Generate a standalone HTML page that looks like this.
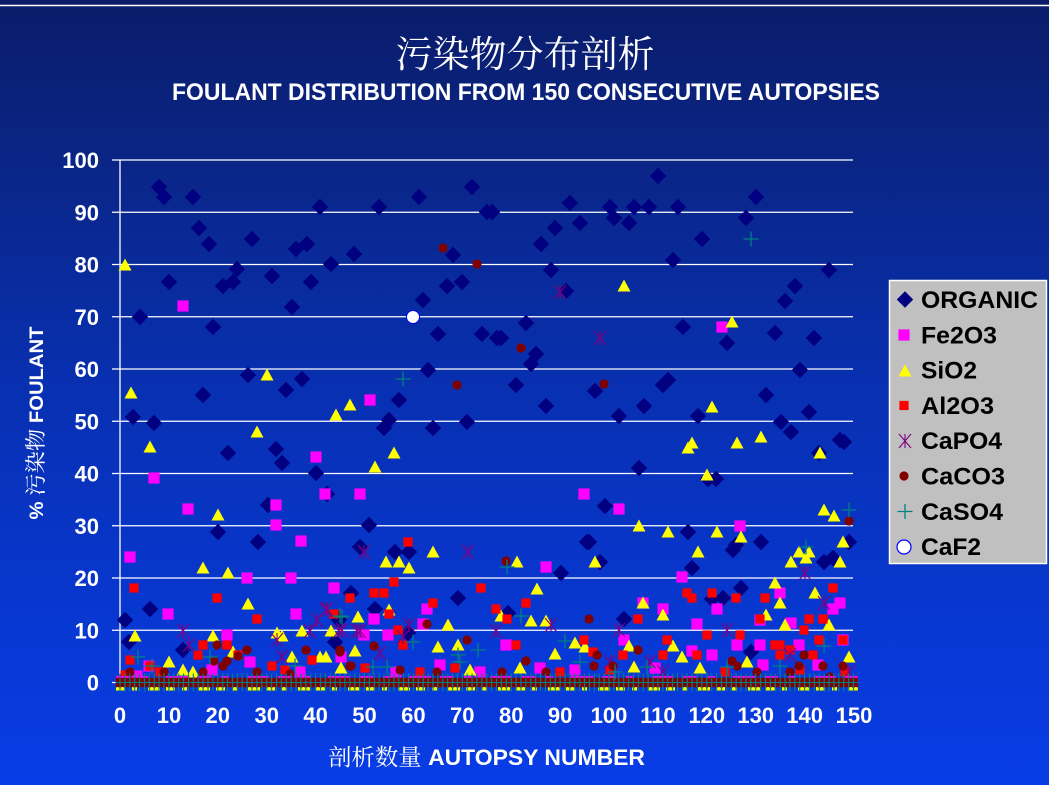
<!DOCTYPE html>
<html><head><meta charset="utf-8"><style>
html,body{margin:0;padding:0;background:#0a2a9a;}
svg{display:block;}
</style></head><body>
<svg xmlns="http://www.w3.org/2000/svg" width="1049" height="785" viewBox="0 0 1049 785">
<defs>
<linearGradient id="bg" x1="0" y1="0" x2="0" y2="1">
<stop offset="0" stop-color="#0a1c6a"/>
<stop offset="0.15" stop-color="#0a237e"/>
<stop offset="0.5" stop-color="#0830b2"/>
<stop offset="0.85" stop-color="#0839d8"/>
<stop offset="1" stop-color="#083ce6"/>
</linearGradient>
<polygon id="D" points="0,-8.2 8.2,0 0,8.2 -8.2,0" fill="#000080"/>
<rect id="M" x="-5.6" y="-5.6" width="11.2" height="11.2" fill="#FF00FF"/>
<polygon id="T" points="0,-6.5 6.5,5.5 -6.5,5.5" fill="#FFFF00"/>
<rect id="R" x="-4.6" y="-4.6" width="9.2" height="9.2" fill="#FF0000"/>
<path id="A" d="M-6,-7L6,7M-6,7L6,-7M0,-7V7" stroke="#800080" stroke-width="1.1" fill="none"/>
<circle id="C" r="4.6" fill="#800000"/>
<path id="P" d="M-7.5,0H7.5M0,-7.5V7.5" stroke="#008080" stroke-width="1.3" fill="none"/>
<pattern id="band" patternUnits="userSpaceOnUse" x="117.557" y="668" width="4.89" height="30">
<circle cx="2.445" cy="14.5" r="5" fill="#800000"/>
<line x1="2.445" y1="5.5" x2="2.445" y2="23.5" stroke="#008080" stroke-width="1.2"/>
<line x1="0" y1="14.5" x2="4.89" y2="14.5" stroke="#008080" stroke-width="1"/>
</pattern>
</defs>
<rect x="0" y="0" width="1049" height="785" fill="url(#bg)"/>
<line x1="0" y1="5.5" x2="1049" y2="5.5" stroke="#ffffff" stroke-width="1.5"/>

<!-- titles -->
<text x="525" y="67" font-family="'Noto Serif CJK SC','Noto Sans CJK SC',serif" font-size="37" fill="#ffffff" text-anchor="middle">污染物分布剖析</text>
<text x="526" y="100" font-family="'Liberation Sans',sans-serif" font-weight="bold" font-size="24" fill="#ffffff" text-anchor="middle" textLength="708" lengthAdjust="spacingAndGlyphs">FOULANT DISTRIBUTION  FROM 150 CONSECUTIVE AUTOPSIES</text>

<!-- gridlines -->
<g stroke="#ffffff" stroke-width="1.3">
<line x1="112" y1="160" x2="853" y2="160"/>
<line x1="112" y1="212.25" x2="853" y2="212.25"/>
<line x1="112" y1="264.5" x2="853" y2="264.5"/>
<line x1="112" y1="316.75" x2="853" y2="316.75"/>
<line x1="112" y1="369" x2="853" y2="369"/>
<line x1="112" y1="421.25" x2="853" y2="421.25"/>
<line x1="112" y1="473.5" x2="853" y2="473.5"/>
<line x1="112" y1="525.75" x2="853" y2="525.75"/>
<line x1="112" y1="578" x2="853" y2="578"/>
<line x1="112" y1="630.25" x2="853" y2="630.25"/>
<line x1="112" y1="682.5" x2="853" y2="682.5"/>
<line x1="120" y1="160" x2="120" y2="686"/>
</g>

<!-- y tick labels -->
<g font-family="'Liberation Sans',sans-serif" font-weight="bold" font-size="22" fill="#ffffff" text-anchor="end">
<text x="99" y="168">100</text>
<text x="99" y="220.25">90</text>
<text x="99" y="272.5">80</text>
<text x="99" y="324.75">70</text>
<text x="99" y="377">60</text>
<text x="99" y="429.25">50</text>
<text x="99" y="481.5">40</text>
<text x="99" y="533.75">30</text>
<text x="99" y="586">20</text>
<text x="99" y="638.25">10</text>
<text x="99" y="690.5">0</text>
</g>
<!-- x tick labels -->
<g font-family="'Liberation Sans',sans-serif" font-weight="bold" font-size="22" fill="#ffffff" text-anchor="middle">
<text x="120" y="723">0</text>
<text x="169" y="723">10</text>
<text x="217.8" y="723">20</text>
<text x="266.7" y="723">30</text>
<text x="315.6" y="723">40</text>
<text x="364.5" y="723">50</text>
<text x="413.4" y="723">60</text>
<text x="462.3" y="723">70</text>
<text x="511.2" y="723">80</text>
<text x="560.1" y="723">90</text>
<text x="609" y="723">100</text>
<text x="657.9" y="723">110</text>
<text x="706.8" y="723">120</text>
<text x="755.7" y="723">130</text>
<text x="804.6" y="723">140</text>
<text x="854" y="723">150</text>
</g>

<!-- axis titles -->
<text x="486.5" y="765" font-family="'Liberation Sans','Noto Serif CJK SC',sans-serif" font-size="22.5" fill="#ffffff" text-anchor="middle" textLength="317" lengthAdjust="spacingAndGlyphs"><tspan font-family="'Noto Serif CJK SC','Noto Sans CJK SC',serif" font-size="23">剖析数量</tspan><tspan font-weight="bold"> AUTOPSY NUMBER</tspan></text>
<text transform="translate(43,423) rotate(-90)" font-family="'Liberation Sans','Noto Serif CJK SC',sans-serif" font-size="19" fill="#ffffff" text-anchor="middle" textLength="193" lengthAdjust="spacingAndGlyphs"><tspan font-weight="bold">% </tspan><tspan font-family="'Noto Serif CJK SC','Noto Sans CJK SC',serif" font-size="21">污染物</tspan><tspan font-weight="bold"> FOULANT</tspan></text>

<!-- ORGANIC -->
<g>
<use href="#D" x="125" y="620"/><use href="#D" x="129" y="642"/><use href="#D" x="133" y="417"/><use href="#D" x="140" y="317"/><use href="#D" x="150" y="609"/><use href="#D" x="154" y="423"/><use href="#D" x="159" y="187"/><use href="#D" x="164" y="197"/><use href="#D" x="169" y="282"/><use href="#D" x="183" y="650"/><use href="#D" x="193" y="197"/><use href="#D" x="199" y="228"/><use href="#D" x="203" y="395"/><use href="#D" x="209" y="244"/><use href="#D" x="213" y="327"/><use href="#D" x="218" y="532"/><use href="#D" x="223" y="286"/><use href="#D" x="228" y="453"/><use href="#D" x="233" y="282"/><use href="#D" x="237" y="269"/><use href="#D" x="248" y="375"/><use href="#D" x="252" y="239"/><use href="#D" x="258" y="542"/><use href="#D" x="268" y="505"/><use href="#D" x="272" y="276"/><use href="#D" x="276" y="449"/><use href="#D" x="282" y="463"/><use href="#D" x="286" y="390"/><use href="#D" x="292" y="307"/><use href="#D" x="296" y="249"/><use href="#D" x="302" y="379"/><use href="#D" x="307" y="244"/><use href="#D" x="311" y="282"/><use href="#D" x="316" y="473"/><use href="#D" x="320" y="207"/><use href="#D" x="327" y="494"/><use href="#D" x="331" y="264"/><use href="#D" x="335" y="642"/><use href="#D" x="339" y="620"/><use href="#D" x="351" y="593"/><use href="#D" x="354" y="254"/><use href="#D" x="360" y="547"/><use href="#D" x="369" y="525"/><use href="#D" x="379" y="207"/><use href="#D" x="375" y="609"/><use href="#D" x="384" y="428"/><use href="#D" x="389" y="420"/><use href="#D" x="395" y="552"/><use href="#D" x="399" y="400"/><use href="#D" x="408" y="633"/><use href="#D" x="409" y="552"/><use href="#D" x="419" y="197"/><use href="#D" x="423" y="300"/><use href="#D" x="428" y="370"/><use href="#D" x="433" y="428"/><use href="#D" x="438" y="334"/><use href="#D" x="447" y="286"/><use href="#D" x="453" y="255"/><use href="#D" x="458" y="598"/><use href="#D" x="462" y="282"/><use href="#D" x="467" y="422"/><use href="#D" x="472" y="187"/><use href="#D" x="482" y="334"/><use href="#D" x="487" y="212"/><use href="#D" x="492" y="212"/><use href="#D" x="497" y="338"/><use href="#D" x="501" y="338"/><use href="#D" x="508" y="613"/><use href="#D" x="516" y="385"/><use href="#D" x="526" y="323"/><use href="#D" x="531" y="364"/><use href="#D" x="536" y="354"/><use href="#D" x="541" y="244"/><use href="#D" x="546" y="406"/><use href="#D" x="551" y="270"/><use href="#D" x="555" y="228"/><use href="#D" x="561" y="573"/><use href="#D" x="566" y="291"/><use href="#D" x="570" y="203"/><use href="#D" x="580" y="223"/><use href="#D" x="587" y="542"/><use href="#D" x="589" y="542"/><use href="#D" x="595" y="391"/><use href="#D" x="600" y="562"/><use href="#D" x="605" y="506"/><use href="#D" x="610" y="207"/><use href="#D" x="614" y="218"/><use href="#D" x="619" y="416"/><use href="#D" x="624" y="619"/><use href="#D" x="629" y="223"/><use href="#D" x="634" y="207"/><use href="#D" x="639" y="468"/><use href="#D" x="644" y="406"/><use href="#D" x="649" y="207"/><use href="#D" x="658" y="176"/><use href="#D" x="663" y="385"/><use href="#D" x="668" y="380"/><use href="#D" x="673" y="260"/><use href="#D" x="678" y="207"/><use href="#D" x="683" y="327"/><use href="#D" x="688" y="532"/><use href="#D" x="692" y="568"/><use href="#D" x="698" y="416"/><use href="#D" x="702" y="239"/><use href="#D" x="708" y="479"/><use href="#D" x="712" y="599"/><use href="#D" x="716" y="479"/><use href="#D" x="723" y="598"/><use href="#D" x="727" y="343"/><use href="#D" x="733" y="550"/><use href="#D" x="736" y="545"/><use href="#D" x="741" y="588"/><use href="#D" x="746" y="218"/><use href="#D" x="751" y="652"/><use href="#D" x="756" y="197"/><use href="#D" x="761" y="542"/><use href="#D" x="766" y="395"/><use href="#D" x="775" y="333"/><use href="#D" x="781" y="422"/><use href="#D" x="785" y="301"/><use href="#D" x="791" y="432"/><use href="#D" x="795" y="286"/><use href="#D" x="800" y="370"/><use href="#D" x="809" y="412"/><use href="#D" x="814" y="338"/><use href="#D" x="819" y="453"/><use href="#D" x="824" y="562"/><use href="#D" x="829" y="270"/><use href="#D" x="833" y="558"/><use href="#D" x="840" y="440"/><use href="#D" x="844" y="442"/><use href="#D" x="849" y="542"/>
</g>

<!-- Fe2O3 -->
<g>
<use href="#M" x="130" y="557"/><use href="#M" x="154" y="478"/><use href="#M" x="183" y="306"/><use href="#M" x="188" y="509"/><use href="#M" x="168" y="614"/><use href="#M" x="227" y="635"/><use href="#M" x="247" y="578"/><use href="#M" x="276" y="505"/><use href="#M" x="276" y="525"/><use href="#M" x="291" y="578"/><use href="#M" x="296" y="614"/><use href="#M" x="301" y="541"/><use href="#M" x="316" y="457"/><use href="#M" x="325" y="494"/><use href="#M" x="334" y="588"/><use href="#M" x="360" y="494"/><use href="#M" x="370" y="400"/><use href="#M" x="374" y="619"/><use href="#M" x="364" y="635"/><use href="#M" x="388" y="635"/><use href="#M" x="427" y="609"/><use href="#M" x="423" y="624"/><use href="#M" x="506" y="645"/><use href="#M" x="546" y="567"/><use href="#M" x="584" y="494"/><use href="#M" x="619" y="509"/><use href="#M" x="643" y="603"/><use href="#M" x="663" y="609"/><use href="#M" x="682" y="577"/><use href="#M" x="697" y="624"/><use href="#M" x="717" y="609"/><use href="#M" x="722" y="327"/><use href="#M" x="740" y="526"/><use href="#M" x="760" y="620"/><use href="#M" x="780" y="593"/><use href="#M" x="791" y="623"/><use href="#M" x="833" y="609"/><use href="#M" x="840" y="603"/><use href="#M" x="737" y="645"/><use href="#M" x="760" y="645"/><use href="#M" x="799" y="645"/><use href="#M" x="843" y="640"/><use href="#M" x="624" y="640"/><use href="#M" x="692" y="651"/><use href="#M" x="712" y="655"/><use href="#M" x="763" y="665"/><use href="#M" x="818" y="665"/><use href="#M" x="250" y="662"/><use href="#M" x="149" y="666"/><use href="#M" x="212" y="670"/><use href="#M" x="341" y="657"/><use href="#M" x="137" y="676"/><use href="#M" x="480" y="672"/><use href="#M" x="540" y="668"/><use href="#M" x="575" y="670"/><use href="#M" x="655" y="668"/><use href="#M" x="300" y="672"/><use href="#M" x="440" y="665"/><use href="#M" x="396" y="672"/>
</g>

<!-- SiO2 -->
<g>
<use href="#T" x="125" y="265"/><use href="#T" x="131" y="393"/><use href="#T" x="135" y="636"/><use href="#T" x="150" y="447"/><use href="#T" x="203" y="568"/><use href="#T" x="218" y="515"/><use href="#T" x="228" y="573"/><use href="#T" x="248" y="604"/><use href="#T" x="257" y="432"/><use href="#T" x="267" y="375"/><use href="#T" x="213" y="636"/><use href="#T" x="277" y="633"/><use href="#T" x="282" y="636"/><use href="#T" x="292" y="657"/><use href="#T" x="302" y="631"/><use href="#T" x="331" y="631"/><use href="#T" x="336" y="415"/><use href="#T" x="350" y="405"/><use href="#T" x="358" y="617"/><use href="#T" x="375" y="467"/><use href="#T" x="386" y="562"/><use href="#T" x="389" y="610"/><use href="#T" x="394" y="453"/><use href="#T" x="399" y="562"/><use href="#T" x="409" y="568"/><use href="#T" x="433" y="552"/><use href="#T" x="438" y="647"/><use href="#T" x="448" y="625"/><use href="#T" x="458" y="645"/><use href="#T" x="501" y="616"/><use href="#T" x="517" y="562"/><use href="#T" x="531" y="621"/><use href="#T" x="537" y="589"/><use href="#T" x="546" y="621"/><use href="#T" x="555" y="654"/><use href="#T" x="575" y="643"/><use href="#T" x="585" y="647"/><use href="#T" x="595" y="562"/><use href="#T" x="624" y="286"/><use href="#T" x="639" y="526"/><use href="#T" x="643" y="603"/><use href="#T" x="663" y="615"/><use href="#T" x="668" y="532"/><use href="#T" x="682" y="657"/><use href="#T" x="688" y="448"/><use href="#T" x="692" y="443"/><use href="#T" x="698" y="552"/><use href="#T" x="707" y="475"/><use href="#T" x="712" y="407"/><use href="#T" x="717" y="532"/><use href="#T" x="732" y="322"/><use href="#T" x="737" y="443"/><use href="#T" x="741" y="537"/><use href="#T" x="761" y="437"/><use href="#T" x="766" y="615"/><use href="#T" x="775" y="583"/><use href="#T" x="780" y="603"/><use href="#T" x="785" y="625"/><use href="#T" x="791" y="562"/><use href="#T" x="799" y="552"/><use href="#T" x="806" y="558"/><use href="#T" x="809" y="552"/><use href="#T" x="815" y="593"/><use href="#T" x="820" y="453"/><use href="#T" x="824" y="510"/><use href="#T" x="829" y="625"/><use href="#T" x="834" y="516"/><use href="#T" x="840" y="562"/><use href="#T" x="843" y="542"/><use href="#T" x="849" y="657"/><use href="#T" x="629" y="646"/><use href="#T" x="673" y="646"/><use href="#T" x="747" y="662"/><use href="#T" x="634" y="667"/><use href="#T" x="169" y="662"/><use href="#T" x="320" y="657"/><use href="#T" x="326" y="657"/><use href="#T" x="341" y="668"/><use href="#T" x="355" y="651"/><use href="#T" x="183" y="670"/><use href="#T" x="193" y="672"/><use href="#T" x="233" y="652"/><use href="#T" x="520" y="668"/><use href="#T" x="470" y="670"/><use href="#T" x="700" y="668"/>
</g>

<!-- Al2O3 -->
<g>
<use href="#R" x="134" y="588"/><use href="#R" x="217" y="598"/><use href="#R" x="257" y="619"/><use href="#R" x="130" y="660"/><use href="#R" x="150" y="666"/><use href="#R" x="203" y="645"/><use href="#R" x="198" y="655"/><use href="#R" x="227" y="645"/><use href="#R" x="238" y="655"/><use href="#R" x="272" y="666"/><use href="#R" x="312" y="660"/><use href="#R" x="334" y="614"/><use href="#R" x="350" y="598"/><use href="#R" x="408" y="542"/><use href="#R" x="394" y="582"/><use href="#R" x="374" y="593"/><use href="#R" x="384" y="593"/><use href="#R" x="481" y="588"/><use href="#R" x="433" y="603"/><use href="#R" x="389" y="614"/><use href="#R" x="496" y="609"/><use href="#R" x="507" y="619"/><use href="#R" x="526" y="603"/><use href="#R" x="398" y="630"/><use href="#R" x="403" y="645"/><use href="#R" x="516" y="645"/><use href="#R" x="584" y="640"/><use href="#R" x="593" y="652"/><use href="#R" x="833" y="588"/><use href="#R" x="687" y="593"/><use href="#R" x="692" y="598"/><use href="#R" x="712" y="593"/><use href="#R" x="736" y="598"/><use href="#R" x="765" y="598"/><use href="#R" x="638" y="619"/><use href="#R" x="760" y="619"/><use href="#R" x="809" y="619"/><use href="#R" x="823" y="619"/><use href="#R" x="804" y="630"/><use href="#R" x="707" y="635"/><use href="#R" x="740" y="635"/><use href="#R" x="667" y="640"/><use href="#R" x="819" y="640"/><use href="#R" x="843" y="640"/><use href="#R" x="775" y="645"/><use href="#R" x="780" y="645"/><use href="#R" x="790" y="650"/><use href="#R" x="623" y="655"/><use href="#R" x="663" y="655"/><use href="#R" x="697" y="655"/><use href="#R" x="780" y="655"/><use href="#R" x="813" y="655"/><use href="#R" x="125" y="675"/><use href="#R" x="160" y="672"/><use href="#R" x="285" y="670"/><use href="#R" x="365" y="668"/><use href="#R" x="420" y="672"/><use href="#R" x="455" y="668"/><use href="#R" x="560" y="672"/><use href="#R" x="610" y="670"/><use href="#R" x="725" y="672"/><use href="#R" x="800" y="670"/><use href="#R" x="845" y="672"/>
</g>

<!-- CaPO4 -->
<g>
<use href="#A" x="183" y="631"/><use href="#A" x="189" y="645"/><use href="#A" x="282" y="657"/><use href="#A" x="310" y="631"/><use href="#A" x="317" y="620"/><use href="#A" x="327" y="609"/><use href="#A" x="339" y="631"/><use href="#A" x="357" y="631"/><use href="#A" x="277" y="640"/><use href="#A" x="364" y="552"/><use href="#A" x="468" y="552"/><use href="#A" x="326" y="610"/><use href="#A" x="342" y="630"/><use href="#A" x="360" y="631"/><use href="#A" x="409" y="625"/><use href="#A" x="496" y="631"/><use href="#A" x="551" y="625"/><use href="#A" x="380" y="653"/><use href="#A" x="403" y="637"/><use href="#A" x="805" y="573"/><use href="#A" x="824" y="603"/><use href="#A" x="619" y="630"/><use href="#A" x="727" y="630"/><use href="#A" x="610" y="662"/><use href="#A" x="650" y="662"/><use href="#A" x="790" y="655"/><use href="#A" x="849" y="672"/><use href="#A" x="663" y="672"/><use href="#A" x="560" y="292"/><use href="#A" x="600" y="338"/>
</g>

<!-- CaCO3 -->
<g>
<use href="#C" x="443" y="248"/><use href="#C" x="477" y="264"/><use href="#C" x="457" y="385"/><use href="#C" x="521" y="348"/><use href="#C" x="604" y="384"/><use href="#C" x="849" y="521"/><use href="#C" x="506" y="561"/><use href="#C" x="427" y="624"/><use href="#C" x="589" y="619"/><use href="#C" x="374" y="646"/><use href="#C" x="467" y="640"/><use href="#C" x="597" y="655"/><use href="#C" x="340" y="652"/><use href="#C" x="351" y="666"/><use href="#C" x="437" y="672"/><use href="#C" x="502" y="672"/><use href="#C" x="526" y="661"/><use href="#C" x="546" y="672"/><use href="#C" x="594" y="666"/><use href="#C" x="164" y="672"/><use href="#C" x="203" y="672"/><use href="#C" x="217" y="645"/><use href="#C" x="214" y="661"/><use href="#C" x="223" y="666"/><use href="#C" x="227" y="661"/><use href="#C" x="238" y="656"/><use href="#C" x="247" y="650"/><use href="#C" x="257" y="672"/><use href="#C" x="306" y="650"/><use href="#C" x="340" y="650"/><use href="#C" x="350" y="666"/><use href="#C" x="130" y="672"/><use href="#C" x="638" y="650"/><use href="#C" x="613" y="666"/><use href="#C" x="732" y="661"/><use href="#C" x="737" y="666"/><use href="#C" x="804" y="655"/><use href="#C" x="799" y="666"/><use href="#C" x="823" y="666"/><use href="#C" x="843" y="666"/><use href="#C" x="757" y="672"/><use href="#C" x="830" y="677"/><use href="#C" x="790" y="672"/><use href="#C" x="400" y="670"/><use href="#C" x="290" y="674"/>
</g>

<!-- zero band -->
<line x1="116" y1="688.5" x2="858" y2="688.5" stroke="#FFFF00" stroke-width="4" stroke-dasharray="9 7 5 11 12 6"/>
<line x1="116" y1="681" x2="858" y2="681" stroke="#FF00FF" stroke-width="10" stroke-dasharray="14 10 8 18 22 9"/>
<rect x="115.5" y="668" width="742.5" height="30" fill="url(#band)"/>

<!-- CaSO4 -->
<g>
<use href="#P" x="403" y="379"/><use href="#P" x="751" y="239"/><use href="#P" x="849" y="510"/><use href="#P" x="806" y="547"/><use href="#P" x="138" y="657"/><use href="#P" x="152" y="666"/><use href="#P" x="210" y="657"/><use href="#P" x="342" y="617"/><use href="#P" x="295" y="666"/><use href="#P" x="507" y="567"/><use href="#P" x="521" y="616"/><use href="#P" x="340" y="616"/><use href="#P" x="413" y="642"/><use href="#P" x="565" y="641"/><use href="#P" x="458" y="655"/><use href="#P" x="478" y="650"/><use href="#P" x="580" y="662"/><use href="#P" x="460" y="662"/><use href="#P" x="373" y="667"/><use href="#P" x="387" y="667"/><use href="#P" x="824" y="646"/><use href="#P" x="615" y="672"/><use href="#P" x="647" y="667"/><use href="#P" x="727" y="667"/><use href="#P" x="780" y="666"/>
</g>

<!-- CaF2 -->
<circle cx="413" cy="317" r="6.5" fill="#ffffff" stroke="#0000ff" stroke-width="1"/>

<!-- legend -->
<rect x="889.5" y="280.5" width="157" height="283" fill="#C0C0C0" stroke="#ffffff" stroke-width="1.5"/>
<use href="#D" x="905" y="299.5"/>
<use href="#M" x="904" y="335"/>
<use href="#T" x="905" y="371"/>
<use href="#R" x="904" y="405.5"/>
<use href="#A" x="905" y="441"/>
<use href="#C" x="904" y="476"/>
<use href="#P" x="905" y="511.5"/>
<circle cx="904" cy="547" r="7" fill="#ffffff" stroke="#0000ff" stroke-width="1.2"/>
<g font-family="'Liberation Sans',sans-serif" font-weight="bold" font-size="24" fill="#000000">
<text x="921" y="308" textLength="117" lengthAdjust="spacingAndGlyphs">ORGANIC</text>
<text x="921" y="343.3" textLength="76" lengthAdjust="spacingAndGlyphs">Fe2O3</text>
<text x="921" y="378.6" textLength="56" lengthAdjust="spacingAndGlyphs">SiO2</text>
<text x="921" y="414" textLength="73" lengthAdjust="spacingAndGlyphs">Al2O3</text>
<text x="921" y="449.2" textLength="81" lengthAdjust="spacingAndGlyphs">CaPO4</text>
<text x="921" y="484.5" textLength="84" lengthAdjust="spacingAndGlyphs">CaCO3</text>
<text x="921" y="519.8" textLength="82" lengthAdjust="spacingAndGlyphs">CaSO4</text>
<text x="921" y="555" textLength="60" lengthAdjust="spacingAndGlyphs">CaF2</text>
</g>
</svg>
</body></html>
